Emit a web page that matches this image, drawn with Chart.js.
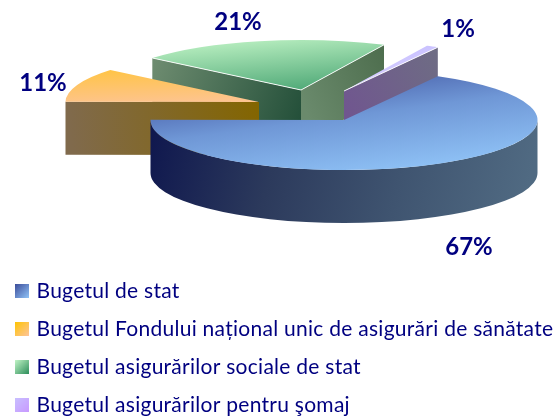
<!DOCTYPE html>
<html>
<head>
<meta charset="utf-8">
<style>html,body{margin:0;padding:0;background:#fff}canvas{display:block}</style>
<script src="https://cdn.jsdelivr.net/npm/chart.js@4/dist/chart.umd.js"></script>
</head>
<body>
<canvas id="c" width="558" height="417"></canvas>
<script>
const categories = [
  "Bugetul de stat",
  "Bugetul Fondului național unic de asigurări de sănătate",
  "Bugetul asigurărilor sociale de stat",
  "Bugetul asigurărilor pentru şomaj"
];
const values = [67, 11, 21, 1];

// styling of the tilted, exploded pie (screen pixels)
const PIE = {cx: 344, cy: 120, rx: 193.5, ry: 50, depth: 53, rotation: 29};
const shifts = [[0,0],[-85,-18],[-43,-30],[0,-29]];
const drawOrder = [2,3,1,0];
const topGrad = [
  {p:[205,72,405,172], c:['#3a4a98','#6f97d6','#8fc2f6']},
  {p:[90,70,110,110], c:['#ffc445','#fdc49a']},
  {p:[215,35,300,100], c:['#c4f6c8','#3f9e6c']},
  {p:[400,50,440,60], c:['#c8c0ff','#d4ccff']}
];
const wallGrad = [
  {p:[150,130,520,220], c:['#0f174e','#2c3a5c','#3f5470','#506a82']},
  {p:[70,130,260,110], c:['#806a4c','#836500']},
  {p:[150,70,300,125], c:['#6e8c70','#234f39']},
  {p:[345,110,440,60], c:['#70568f','#6e6c84']}
];
const rightWallGrad = {p:[301,100,395,60], c:['#6a8a6c','#4c6c4c']};
const labelPos = [[469,247],[43,83],[238,22],[458,29]];
const swatches = [['#3a4a98','#8fc2f6'],['#ffc400','#fdc49a'],['#c4f6c8','#2f8f5c'],['#c8c0ff','#c89aff']];
const TEXT = '#000080';

function lin(ctx,p,c){
  const g=ctx.createLinearGradient(p[0],p[1],p[2],p[3]);
  c.forEach((col,i)=>g.addColorStop(i/(c.length-1),col));
  return g;
}

function swatch(c){
  const s=document.createElement('canvas');s.width=14;s.height=14;
  const x=s.getContext('2d');x.fillStyle=lin(x,[0,0,14,14],c);x.fillRect(0,0,14,14);return s;
}

// map a screen point into the flat pie's own coordinates, so gradients survive the tilt transform
function localPoint(chart,i,px,py){
  const a=chart.chartArea, r=PIE.rx;
  const ax=(a.left+a.right)/2, ay=(a.top+a.bottom)/2;
  return [ax+(px-PIE.cx-shifts[i][0])*r/PIE.rx, ay+(py-PIE.cy-shifts[i][1])*r/PIE.ry];
}

const pie3d = {
  id:'pie3d',
  beforeDraw(chart){
    chart.ctx.letterSpacing='0.27px';
  },
  beforeDatasetsDraw(chart){
    const ctx=chart.ctx, arcs=chart.getDatasetMeta(0).data;
    drawOrder.forEach(i=>{
      const arc=arcs[i];
      const ox=PIE.cx+shifts[i][0], oy=PIE.cy+shifts[i][1];
      const pt=a=>[ox+PIE.rx*Math.cos(a), oy+PIE.ry*Math.sin(a)];
      const a0=arc.startAngle, a1=arc.endAngle, d=PIE.depth;
      const quad=(a,fill)=>{
        const q=pt(a);
        ctx.beginPath();ctx.moveTo(ox,oy);ctx.lineTo(q[0],q[1]);ctx.lineTo(q[0],q[1]+d);ctx.lineTo(ox,oy+d);ctx.closePath();
        ctx.fillStyle=fill;ctx.fill();
      };
      const w=lin(ctx,wallGrad[i].p,wallGrad[i].c);
      if(Math.cos(a0)<0) quad(a0,w);
      if(Math.cos(a1)>0) quad(a1,i===2?lin(ctx,rightWallGrad.p,rightWallGrad.c):w);
      // outer rim: the part of the arc on the viewer's side
      const from=Math.max(a0,0), to=Math.min(a1,Math.PI);
      if(to>from){
        ctx.beginPath();
        ctx.ellipse(ox,oy,PIE.rx,PIE.ry,0,from,to);
        ctx.ellipse(ox,oy+d,PIE.rx,PIE.ry,0,to,from,true);
        ctx.closePath();ctx.fillStyle=w;ctx.fill();
      }
      ctx.save();
      ctx.translate(ox,oy);
      ctx.scale(PIE.rx/arc.outerRadius,PIE.ry/arc.outerRadius);
      ctx.translate(-arc.x,-arc.y);
      arc.draw(ctx);
      ctx.restore();
      // thin light edge on the radial sides that catch the light
      if(i===2||i===3){
        ctx.strokeStyle='rgba(255,255,255,0.9)';ctx.lineWidth=1;
        ctx.beginPath();
        if(Math.cos(a0)<0){const q=pt(a0);ctx.moveTo(ox,oy);ctx.lineTo(q[0],q[1]);}
        if(Math.cos(a1)>0){const q=pt(a1);ctx.moveTo(ox,oy);ctx.lineTo(q[0],q[1]);}
        ctx.stroke();
      }
    });
    return false;
  },
  afterDraw(chart){
    const ctx=chart.ctx;
    ctx.save();
    ctx.letterSpacing='0px';
    ctx.font='bold 24px Lato';ctx.fillStyle=TEXT;ctx.textAlign='center';ctx.textBaseline='middle';
    values.forEach((v,i)=>ctx.fillText(v+'%',labelPos[i][0],labelPos[i][1]));
    ctx.restore();
  }
};

new Chart(document.getElementById('c'),{
  type:'pie',
  data:{labels:categories,datasets:[{
    data:values,
    borderWidth:0,
    backgroundColor(c){
      if(!c.chart.chartArea||c.dataIndex===undefined) return '#888';
      const i=c.dataIndex,g=topGrad[i];
      const a=localPoint(c.chart,i,g.p[0],g.p[1]),b=localPoint(c.chart,i,g.p[2],g.p[3]);
      return lin(c.chart.ctx,[a[0],a[1],b[0],b[1]],g.c);
    }
  }]},
  options:{
    responsive:false,animation:false,
    rotation:PIE.rotation,
    radius:PIE.rx,
    layout:{padding:{bottom:-8.5}},
    plugins:{
      tooltip:{enabled:false},
      legend:{
        position:'bottom',align:'start',
        labels:{
          color:TEXT,
          font:{family:'Lato',size:21},
          usePointStyle:true,pointStyleWidth:9,
          padding:17,
          generateLabels(){
            return categories.map((t,i)=>({text:t,fontColor:TEXT,pointStyle:swatch(swatches[i]),hidden:false,index:i}));
          }
        }
      }
    }
  },
  plugins:[pie3d]
});
</script>
</body>
</html>
